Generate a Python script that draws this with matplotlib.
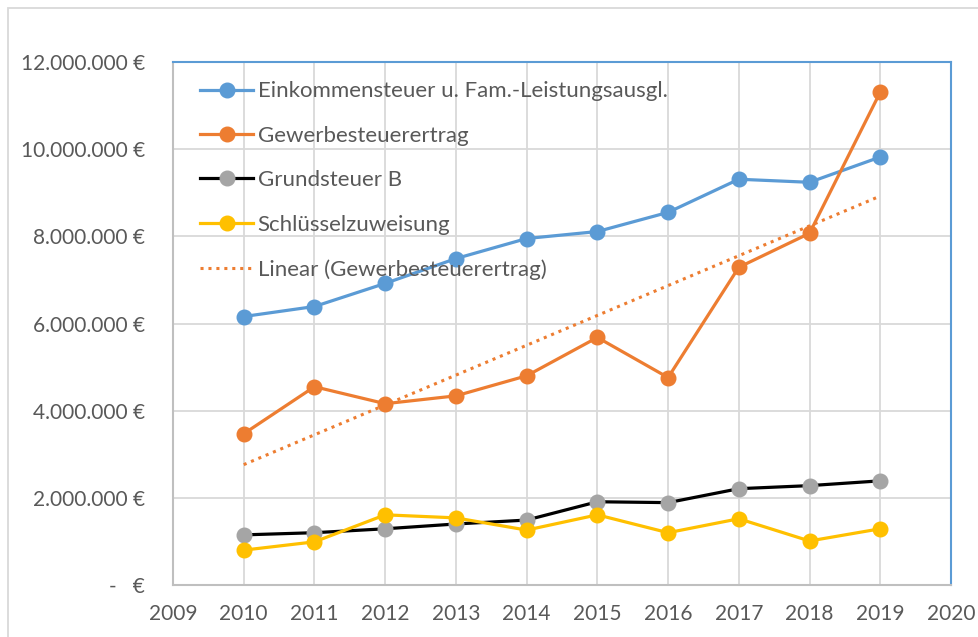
import matplotlib
matplotlib.use("Agg")
import matplotlib.pyplot as plt
import matplotlib.patches as mpatches
import numpy as np

years = [2010, 2011, 2012, 2013, 2014, 2015, 2016, 2017, 2018, 2019]
einkommen = [6.16e6, 6.39e6, 6.92e6, 7.49e6, 7.95e6, 8.11e6, 8.55e6, 9.31e6, 9.24e6, 9.82e6]
gewerbe = [3.47e6, 4.55e6, 4.16e6, 4.34e6, 4.80e6, 5.68e6, 4.76e6, 7.29e6, 8.07e6, 11.31e6]
grundsteuer = [1.15e6, 1.20e6, 1.29e6, 1.40e6, 1.49e6, 1.91e6, 1.89e6, 2.21e6, 2.28e6, 2.39e6]
schluessel = [0.80e6, 0.99e6, 1.61e6, 1.54e6, 1.26e6, 1.61e6, 1.20e6, 1.52e6, 1.01e6, 1.29e6]

labels = ["Einkommensteuer u. Fam.-Leistungsausgl.", "Gewerbesteuerertrag",
          "Grundsteuer B", "Schlüsselzuweisung", "Linear (Gewerbesteuerertrag)"]
x_ticks = list(range(2009, 2021))
y_ticks = [0, 2e6, 4e6, 6e6, 8e6, 10e6, 12e6]

plt.rcParams['font.family'] = ['Lato', 'DejaVu Sans']

W, H = 979, 637
fig = plt.figure(figsize=(W / 100, H / 100), dpi=100)
ax = fig.add_axes([173 / W, 1 - 585 / H, (951 - 173) / W, (585 - 62) / H])

lw = 2.3
ms = 10.5
blue = '#5b9bd5'
orange = '#ed7d31'
gray = '#a5a5a5'
yellow = '#ffc000'

ax.plot(years, einkommen, color=blue, lw=lw, marker='o', ms=ms, mfc=blue, mec=blue, label=labels[0], zorder=3)
ax.plot(years, gewerbe, color=orange, lw=lw, marker='o', ms=ms, mfc=orange, mec=orange, label=labels[1], zorder=3)
ax.plot(years, grundsteuer, color='black', lw=lw, marker='o', ms=ms, mfc=gray, mec=gray, label=labels[2], zorder=3)
ax.plot(years, schluessel, color=yellow, lw=lw, marker='o', ms=ms, mfc=yellow, mec=yellow, label=labels[3], zorder=3)

coef = np.polyfit(years, gewerbe, 1)
trend = np.polyval(coef, years)
ax.plot([years[0], years[-1]], [trend[0], trend[-1]], color=orange, lw=2.2, ls=(0, (1, 1.6)), label=labels[4], zorder=2)

ax.set_xlim(2009, 2020)
ax.set_ylim(0, 12e6)
ax.set_xticks(x_ticks)
ax.set_yticks(y_ticks)

def fmt(v):
    if v == 0:
        return "-   €"
    return "{:,.0f}".format(v).replace(",", ".") + " €"

ax.set_yticklabels([fmt(v) for v in y_ticks])
ax.set_xticklabels([str(y) for y in x_ticks])
ax.tick_params(axis='both', length=0, labelsize=15, colors='#595959')
ax.tick_params(axis='y', pad=20)
ax.tick_params(axis='x', pad=14)

ax.grid(True, color='#d9d9d9', lw=1.3, zorder=0)
ax.set_axisbelow(True)
for s in ['left', 'bottom']:
    ax.spines[s].set_color('#bfbfbf')
    ax.spines[s].set_linewidth(1.5)
for s in ['top', 'right']:
    ax.spines[s].set_color(blue)
    ax.spines[s].set_linewidth(1.5)

leg = ax.legend(loc='upper left', bbox_to_anchor=(0.0347, 0.963), frameon=False,
                fontsize=16, labelcolor='#595959', handlelength=2.4, handletextpad=0.2,
                labelspacing=1.1, borderaxespad=0, borderpad=0)

fig.patches.append(mpatches.Rectangle((8 / W, -0.1), 1.2, 1 - 8 / H + 0.1,
                                      transform=fig.transFigure, fill=False,
                                      edgecolor='#d9d9d9', lw=1.3, zorder=0))

fig.savefig("out.png", dpi=100)
